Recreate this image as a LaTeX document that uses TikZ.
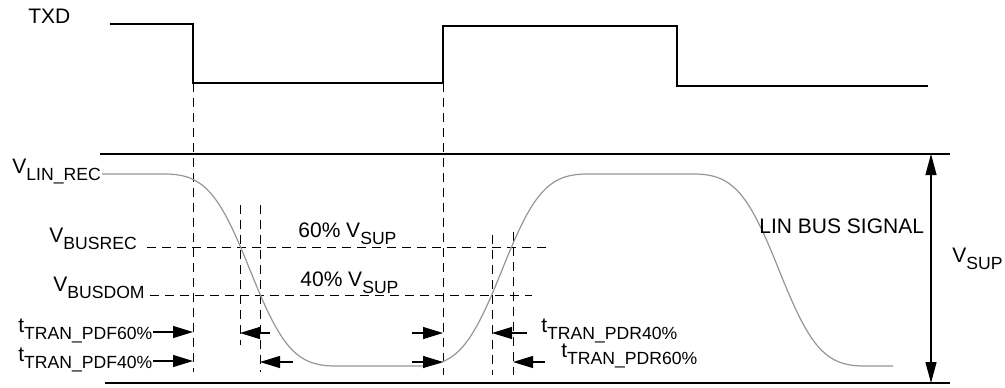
\documentclass[tikz,border=0pt]{standalone}
\usepackage{fontspec}
\setmainfont{Liberation Sans}
\usetikzlibrary{arrows.meta}
\definecolor{siggray}{RGB}{150,150,150}
\newcommand{\subtxt}[1]{\raisebox{-3.5pt}{\fontsize{8.8}{10}\selectfont #1}}

\begin{document}
\begin{tikzpicture}[x=0.5pt,y=-0.5pt]
    \tikzstyle{lbl}=[inner sep=0pt,anchor=base west,font=\fontsize{10.5}{12}\selectfont]
    \tikzstyle{guide}=[line width=0.5pt,dash pattern=on 4.5pt off 3pt]
    \tikzstyle{rail}=[line width=0.65pt]
    \tikzstyle{tip}=[line width=0.6pt,-{Triangle[length=10pt,width=6pt]}]
    \useasboundingbox (0,0) rectangle (1005,387);

    % TXD
    \node[lbl] (txd) at (28,23) {TXD};
    \draw[line width=1.4pt] (110,24) -- (193,24) -- (193,83) -- (443,83) -- (443,26)
        -- (677,26) -- (677,86) -- (928,86);

    % rails
    \coordinate (top-l) at (100,154);
    \coordinate (top-r) at (950,154);
    \coordinate (bot-l) at (105,383);
    \coordinate (bot-r) at (950,383);
    \draw[rail] (top-l) -- (top-r);
    \draw[rail] (bot-l) -- (bot-r);

    % vertical guides
    \foreach \name/\x/\ya/\yb in {d1/193/83/372, d2/240/205/345, d3/260/205/372,
                                 d4/443/83/375, d5/492/235/375, d6/513/232/375}
    {
        \coordinate (\name-t) at (\x,\ya);
        \coordinate (\name-b) at (\x,\yb);
        \draw[guide] (\name-t) -- (\name-b);
    }

    % levels
    \node[lbl] (linrec) at (12,173) {V\subtxt{LIN\_REC}};
    \node[lbl] (busrec) at (49,242) {V\subtxt{BUSREC}};
    \node[lbl] (busdom) at (53,291) {V\subtxt{BUSDOM}};
    \coordinate (h60-l) at (147,247);
    \coordinate (h60-r) at (546,247);
    \coordinate (h40-l) at (150,295);
    \coordinate (h40-r) at (532,295);
    \draw[guide] (h60-l) -- (h60-r);
    \draw[guide] (h40-l) -- (h40-r);
    \node[lbl] (p60) at (298,237) {60\% V\subtxt{SUP}};
    \node[lbl] (p40) at (300,286) {40\% V\subtxt{SUP}};

    % bus signal
    \draw[line width=0.6pt,siggray] (102,174) -- (165,174)
        .. controls (205,174) and (220,195) .. (250,270)
        .. controls (280,345) and (295,366) .. (335,366) -- (417,366)
        .. controls (457,366) and (472,345) .. (502,270)
        .. controls (532,195) and (547,174) .. (587,174) -- (694,174)
        .. controls (734,174) and (749,195) .. (779,270)
        .. controls (809,345) and (824,366) .. (864,366) -- (893,366);
    \node[lbl] (lin) at (759,233) {LIN BUS SIGNAL};

    % timing arrows
    \node[lbl] (pdf60) at (18,332) {t\subtxt{TRAN\_PDF60\%}};
    \node[lbl] (pdf40) at (18,361) {t\subtxt{TRAN\_PDF40\%}};
    \node[lbl] (pdr40) at (541,332) {t\subtxt{TRAN\_PDR40\%}};
    \node[lbl] (pdr60) at (561,357) {t\subtxt{TRAN\_PDR60\%}};
    \draw[tip] (pdf60.base east) -- (pdf60.base -| d1-t);
    \draw[tip] (pdf40.base east) -- (pdf40.base -| d1-t);
    \foreach \from/\to/\y in {270/d2/333, 293/d3/362, 412/d4/333, 412/d4/362, 527/d5/333, 545/d6/362}
    {
        \coordinate (tail) at (\from,\y);
        \draw[tip] (tail) -- (tail -| \to-t);
    }

    % supply
    \coordinate (vs-t) at (931,154);
    \coordinate (vs-b) at (931,383);
    \draw[line width=0.6pt,{Triangle[length=10.5pt,width=5.5pt]}-{Triangle[length=10.5pt,width=5.5pt]}] (vs-t) -- (vs-b);
    \node[lbl] (vsup) at (952,262) {V\subtxt{SUP}};
\end{tikzpicture}
\end{document}
